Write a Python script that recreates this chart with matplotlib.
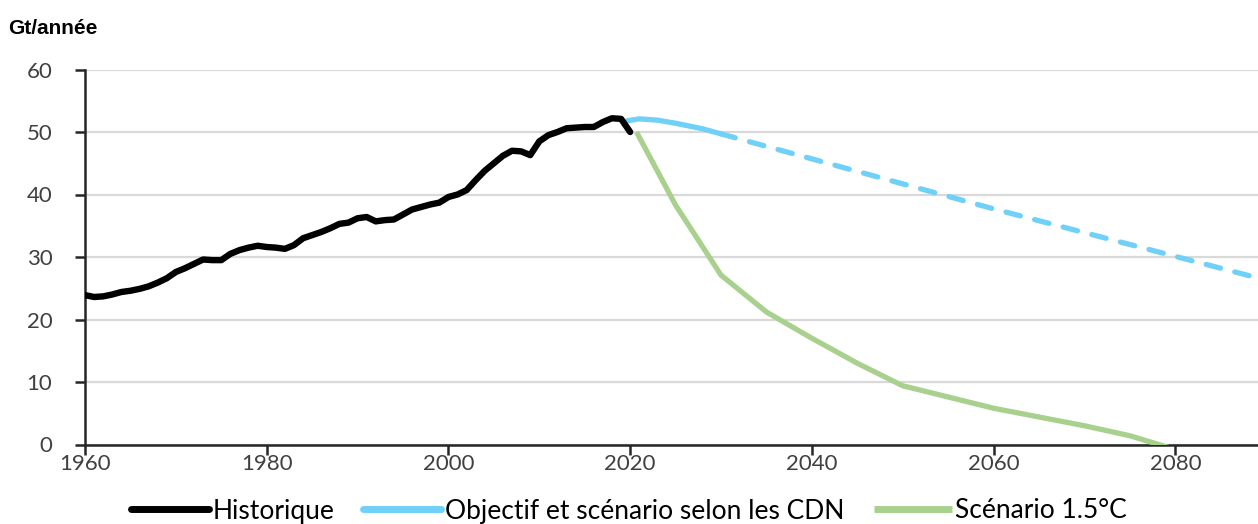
import matplotlib
matplotlib.use("Agg")
import matplotlib.pyplot as plt
from matplotlib.lines import Line2D

# ---- data ----
hist_years = list(range(1960, 2021))
hist_values = [23.9, 23.6, 23.7, 24.0, 24.4, 24.6, 24.9, 25.3, 25.9, 26.6,
               27.6, 28.2, 28.9, 29.6, 29.5, 29.5, 30.5, 31.1, 31.5, 31.8,
               31.6, 31.5, 31.3, 31.9, 33.0, 33.5, 34.0, 34.6, 35.3, 35.5,
               36.2, 36.4, 35.7, 35.9, 36.0, 36.8, 37.6, 38.0, 38.4, 38.7,
               39.6, 40.0, 40.7, 42.3, 43.8, 45.0, 46.2, 47.0, 46.9, 46.3,
               48.5, 49.5, 50.0, 50.6, 50.7, 50.8, 50.8, 51.6, 52.2, 52.1,
               50.0]
cdn_years = [2019.7, 2021, 2023, 2025, 2028, 2030]
cdn_values = [51.8, 52.1, 51.9, 51.4, 50.5, 49.7]
cdn_proj_years = [2030, 2040, 2050, 2060, 2070, 2080, 2090]
cdn_proj_values = [49.7, 45.7, 41.7, 37.7, 33.9, 30.1, 26.3]
sc15_years = [2020.7, 2025, 2030, 2035, 2040, 2045, 2050, 2055, 2060, 2065, 2070, 2075, 2080]
sc15_values = [50.0, 38.3, 27.1, 21.2, 17.0, 13.0, 9.4, 7.6, 5.8, 4.4, 3.0, 1.4, -0.8]
x_ticks = [1960, 1980, 2000, 2020, 2040, 2060, 2080]
y_ticks = [0, 10, 20, 30, 40, 50, 60]
legend_labels = ["Historique", "Objectif et scénario selon les CDN", "Scénario 1.5°C"]
y_unit = "Gt/année"

# ---- style ----
W, H = 1258, 524
fig = plt.figure(figsize=(W / 100, H / 100), dpi=100)
ax = fig.add_axes([85 / W, 1 - 444.5 / H, (1258 - 85) / W, (444.5 - 69.5) / H])

c_black = "#000000"
c_blue = "#6fd0f8"
c_green = "#a9d18e"
tick_color = "#404040"
font = "Lato"

ax.plot(hist_years, hist_values, color=c_black, lw=4.6, solid_capstyle="round",
        solid_joinstyle="round", zorder=4)
ax.plot(cdn_years, cdn_values, color=c_blue, lw=3.8, solid_capstyle="round", zorder=3)
ax.plot(cdn_proj_years, cdn_proj_values, color=c_blue, lw=3.8, dash_capstyle="round",
        dashes=(2.8, 2.8), zorder=3)
ax.plot(sc15_years, sc15_values, color=c_green, lw=3.8, solid_capstyle="butt", zorder=3)

ax.set_xlim(1960, 2089.1)
ax.set_ylim(0, 60)
ax.set_xticks(x_ticks)
ax.set_yticks(y_ticks)
ax.grid(axis="y", color="#d9d9d9", lw=1.6)
ax.set_axisbelow(True)
for s in ["top", "right"]:
    ax.spines[s].set_visible(False)
for s in ["left", "bottom"]:
    ax.spines[s].set_color("#262626")
    ax.spines[s].set_linewidth(1.8)
ax.tick_params(axis="both", direction="out", length=7, width=1.8, color="#262626",
               labelcolor=tick_color, labelsize=16)
ax.tick_params(axis="y", pad=16.5)
ax.tick_params(axis="x", pad=0)
for lab in ax.get_xticklabels() + ax.get_yticklabels():
    lab.set_fontfamily(font)

fig.text(8 / W, 1 - 28 / H, y_unit, fontsize=15, fontweight="bold",
         family="Liberation Sans", va="center", ha="left")

handles = [Line2D([], [], color=c_black, lw=5, solid_capstyle="round"),
           Line2D([], [], color=c_blue, lw=5, solid_capstyle="round"),
           Line2D([], [], color=c_green, lw=5, solid_capstyle="butt")]
fig.legend(handles, legend_labels, loc="center", bbox_to_anchor=(0.5, 1 - 511 / H),
           ncol=3, frameon=False, prop={"family": font, "size": 19},
           handlelength=2.95, handletextpad=0.15, columnspacing=1.1, borderpad=0)

fig.savefig("out.png", dpi=100)
